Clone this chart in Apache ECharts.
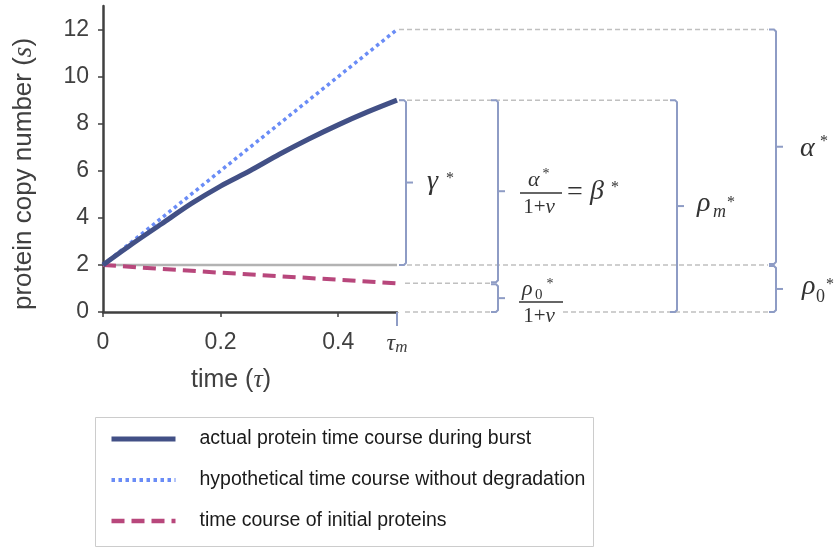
<!DOCTYPE html>
<html><head><meta charset="utf-8">
<script src="https://cdn.jsdelivr.net/npm/echarts@6/dist/echarts.min.js"></script>
<style>html,body{margin:0;padding:0;background:#fff}#c{width:835px;height:550px}</style>
</head><body><div id="c"></div>
<script>
// ---- data ----
const times = [0, 0.05, 0.1, 0.15, 0.2, 0.25, 0.3, 0.35, 0.4, 0.45, 0.5];
const actualCourse = [2.0, 2.9, 3.75, 4.6, 5.35, 6.0, 6.7, 7.35, 7.95, 8.5, 9.0];
const hypoTimes = [0, 0.5];
const hypoCourse = [2, 12];
const initTimes = [0, 0.1, 0.2, 0.3, 0.4, 0.5];
const initCourse = [2.0, 1.83, 1.67, 1.52, 1.37, 1.22];
const baseTimes = [0, 0.5];
const baseLevel = [2, 2];
const yTicks = [0, 2, 4, 6, 8, 10, 12];
const xTicks = [0, 0.2, 0.4];
const xLabelValues = [0, 0.2, 0.4, 0.5];
const xTickLabels = ['0', '0.2', '0.4', '{t|τ}{m|m}'];
const seriesNames = [
  'actual protein time course during burst',
  'hypothetical time course without degradation',
  'time course of initial proteins'
];

const zip = (xs, ys) => xs.map((x, i) => [x, ys[i]]);
const SANS = 'Liberation Sans, Arial, sans-serif';
const SERIF = 'Liberation Serif, Times New Roman, serif';
const AX = '#404040';
const C_ACT = '#425086', C_HYP = '#6a8cf6', C_INIT = '#b8477c';

const chart = echarts.init(document.getElementById('c'), null, {renderer: 'canvas'});
chart.setOption({
  animation: false,
  backgroundColor: '#ffffff',
  grid: {left: 103, right: 438, top: 6, bottom: 238},
  xAxis: {
    type: 'value', min: 0, max: 0.5,
    splitLine: {show: false},
    axisLine: {lineStyle: {color: AX, width: 2.5}},
    axisTick: {customValues: xTicks, length: 5, lineStyle: {color: AX, width: 1.5}},
    axisLabel: {
      customValues: xLabelValues, margin: 19, color: AX, fontSize: 23, fontFamily: SANS,
      formatter: v => xTickLabels[xLabelValues.findIndex(x => Math.abs(x - v) < 1e-9)],
      rich: {
        t: {fontFamily: SERIF, fontStyle: 'italic', fontSize: 24, color: AX},
        m: {fontFamily: SERIF, fontStyle: 'italic', fontSize: 17, color: AX, padding: [8, 0, 0, 0]}
      }
    },
    name: '{a|time (}{t|τ}{a|)}', nameLocation: 'middle', nameGap: 55,
    nameTextStyle: {
      padding: [0, 38, 0, 0],
      rich: {
        a: {fontFamily: SANS, fontSize: 25, color: AX},
        t: {fontFamily: SERIF, fontStyle: 'italic', fontSize: 26, color: AX}
      }
    }
  },
  yAxis: {
    type: 'value', min: 0, max: 13,
    splitLine: {show: false},
    axisLine: {show: true, lineStyle: {color: AX, width: 2.5}},
    axisTick: {show: true, customValues: yTicks, length: 5, lineStyle: {color: AX, width: 1.5}},
    axisLabel: {customValues: yTicks, margin: 14, color: AX, fontSize: 23, fontFamily: SANS},
    name: '{a|protein copy number (}{s|s}{a|)}', nameLocation: 'middle', nameGap: 66,
    nameTextStyle: {
      padding: [0, 30, 0, 0],
      rich: {
        a: {fontFamily: SANS, fontSize: 26, color: AX},
        s: {fontFamily: SERIF, fontStyle: 'italic', fontSize: 27, color: AX}
      }
    }
  },
  legend: {
    orient: 'vertical', left: 109, top: 429, padding: 0,
    itemWidth: 64, itemHeight: 14, itemGap: 21,
    itemStyle: {opacity: 0},
    data: [
      {name: seriesNames[0], lineStyle: {width: 5}},
      {name: seriesNames[1], lineStyle: {width: 4}},
      {name: seriesNames[2], lineStyle: {width: 4.5}}
    ],
    textStyle: {fontFamily: SANS, fontSize: 19.5, color: '#1a1a1a', padding: [0, 0, 0, 19]}
  },
  series: [
    {
      name: 'baseline', type: 'line', data: zip(baseTimes, baseLevel), symbol: 'none', z: 1,
      lineStyle: {color: '#b3b3b3', width: 2.5}, silent: true
    },
    {
      name: seriesNames[2], type: 'line', data: zip(initTimes, initCourse), symbol: 'none', z: 2,
      lineStyle: {color: C_INIT, width: 4, type: [13, 7]}, itemStyle: {color: C_INIT}
    },
    {
      name: seriesNames[1], type: 'line', data: zip(hypoTimes, hypoCourse), symbol: 'none', z: 3,
      lineStyle: {color: C_HYP, width: 3.5, type: [3.5, 3.5]}, itemStyle: {color: C_HYP}
    },
    {
      name: seriesNames[0], type: 'line', data: zip(times, actualCourse), symbol: 'none', z: 4,
      smooth: 0.3,
      lineStyle: {color: C_ACT, width: 5}, itemStyle: {color: C_ACT}
    }
  ]
});

// ---- annotations (brackets, guide lines, math labels) positioned from data values ----
const px = (x, y) => chart.convertToPixel({gridIndex: 0}, [x, y]);
const yOf = v => px(0, v)[1];
const tauX = px(xLabelValues[3], 0)[0];
const yHypoEnd = yOf(hypoCourse[hypoCourse.length - 1]);
const yActEnd = yOf(actualCourse[actualCourse.length - 1]);
const yBase = yOf(baseLevel[0]);
const yInitEnd = yOf(initCourse[initCourse.length - 1]);
const yZero = yOf(0);

const BR = '#8e9cc5';
const GUIDE = '#c0c0c0';
const MATH = '#333333';
const g = [];

function guide(x1, x2, y) {
  g.push({type: 'line', silent: true, z: 5,
    shape: {x1, y1: y, x2, y2: y},
    style: {stroke: GUIDE, lineWidth: 1.5, lineDash: [5, 3]}});
}
function bracket(x, yTop, yBot, serif) {
  serif = serif || 7;
  const mid = (yTop + yBot) / 2;
  g.push({type: 'polyline', silent: true, z: 6,
    shape: {points: [[x - serif, yTop], [x - 2, yTop], [x, yTop + 2], [x, yBot - 2], [x - 2, yBot], [x - serif, yBot]]},
    style: {stroke: BR, lineWidth: 2, fill: null}});
  g.push({type: 'line', silent: true, z: 6,
    shape: {x1: x, y1: mid, x2: x + 7, y2: mid},
    style: {stroke: BR, lineWidth: 2}});
}
function txt(text, x, y, size, opt) {
  opt = opt || {};
  g.push({type: 'text', silent: true, z: 7, x, y,
    style: {text, fill: MATH, fontSize: size,
      fontFamily: opt.family || SERIF, fontStyle: opt.italic === false ? 'normal' : 'italic',
      align: opt.align || 'left', verticalAlign: 'middle'}});
}
function denom(x, y, size) {
  g.push({type: 'text', silent: true, z: 7, x, y,
    style: {text: '{n|1+}{i|ν}', align: 'center', verticalAlign: 'middle',
      rich: {
        n: {fontFamily: SERIF, fontSize: size, fill: MATH, color: MATH},
        i: {fontFamily: SERIF, fontStyle: 'italic', fontSize: size, fill: MATH, color: MATH}
      }}});
}
function bar(x1, x2, y) {
  g.push({type: 'line', silent: true, z: 7,
    shape: {x1, y1: y, x2, y2: y}, style: {stroke: MATH, lineWidth: 1.5}});
}

// guide lines
guide(tauX + 2, 768, yHypoEnd);
guide(tauX + 2, 669, yActEnd);
guide(tauX + 2, 768, yBase);
guide(tauX + 8, 491, yInitEnd);
guide(tauX + 8, 491, yZero);
guide(563, 768, yZero);

// tau_m tick
g.push({type: 'line', silent: true, z: 6,
  shape: {x1: tauX, y1: yZero, x2: tauX, y2: yZero + 14},
  style: {stroke: BR, lineWidth: 2}});

// brackets
bracket(406, yActEnd, yBase);            // gamma*
bracket(498, yActEnd, yInitEnd - 1);     // beta*
bracket(498, yInitEnd + 1, yZero);       // rho0*/(1+nu)
bracket(677, yActEnd, yZero);            // rho_m*
bracket(776, yHypoEnd, yBase - 1);       // alpha*
bracket(776, yBase + 1, yZero);          // rho0*

// gamma*
txt('γ', 427, 182, 28);
txt('*', 450, 179, 16, {italic: false, align: 'center'});
// alpha*/(1+nu) = beta*
txt('α', 528, 180, 22);
txt('*', 546, 174, 14, {italic: false, align: 'center'});
bar(520, 562, 193);
denom(539, 207, 21);
txt('=', 575, 193, 28, {italic: false, align: 'center'});
txt('β', 597, 192, 28, {align: 'center'});
txt('*', 615, 188, 16, {italic: false, align: 'center'});
// rho0*/(1+nu)
txt('ρ', 522, 289, 22);
txt('0', 535, 295, 15, {italic: false});
txt('*', 550, 284, 14, {italic: false, align: 'center'});
bar(519, 563, 302);
denom(539, 316, 21);
// rho_m*
txt('ρ', 697, 204, 28);
txt('m', 713, 212, 18);
txt('*', 731, 203, 16, {italic: false, align: 'center'});
// alpha*
txt('α', 800, 149, 28);
txt('*', 824, 142, 16, {italic: false, align: 'center'});
// rho0*
txt('ρ', 802, 287, 28);
txt('0', 816, 297, 18, {italic: false});
txt('*', 830, 285, 16, {italic: false, align: 'center'});

// legend frame
g.push({type: 'rect', silent: true, z: 0,
  shape: {x: 95.5, y: 417.5, width: 498, height: 129},
  style: {stroke: '#cccccc', lineWidth: 1, fill: null}});

chart.setOption({graphic: {elements: g}});
</script>
</body></html>
